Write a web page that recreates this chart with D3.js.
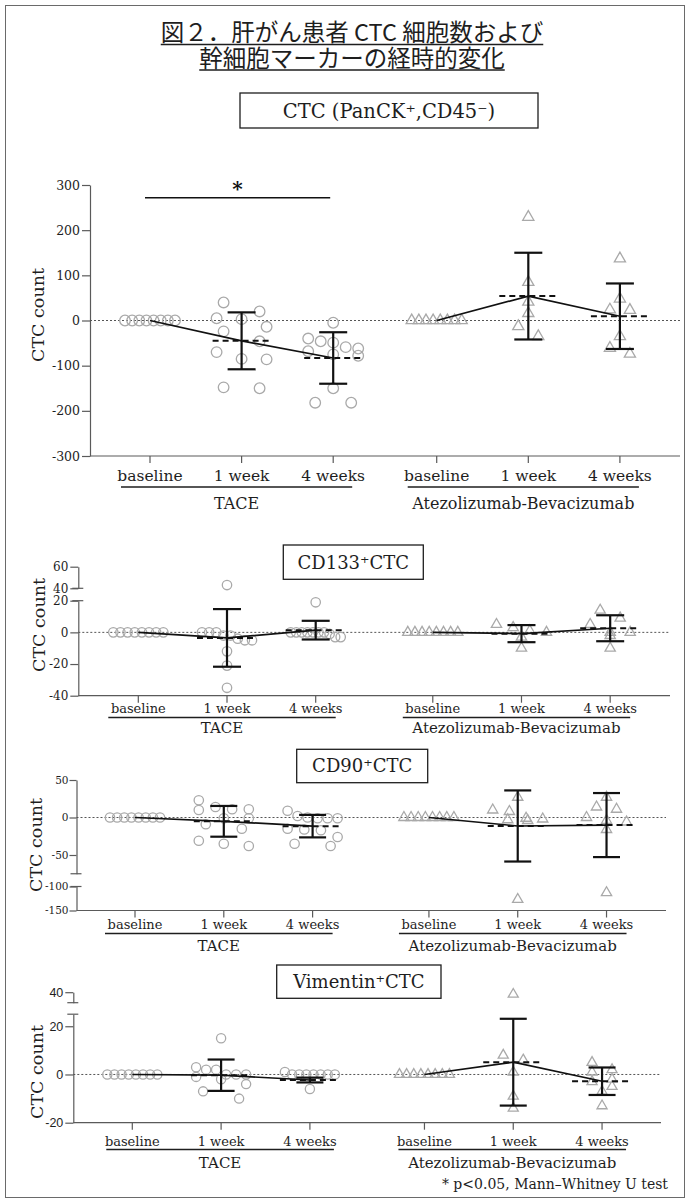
<!DOCTYPE html>
<html><head><meta charset="utf-8">
<script src="https://cdn.jsdelivr.net/npm/d3@7"></script>
<style>body{margin:0;background:#fff}</style>
</head><body>
<svg id="chart" width="690" height="1204"></svg>
<script>
// ================= DATA =================
const categories = ["baseline", "1 week", "4 weeks"];
const groups = ["TACE", "Atezolizumab-Bevacizumab"];
const titleLines = ["図２．肝がん患者 CTC 細胞数および", "幹細胞マーカーの経時的変化"];
const panelTitles = ["CTC (PanCK⁺,CD45⁻)", "CD133⁺CTC", "CD90⁺CTC", "Vimentin⁺CTC"];
const yLabel = "CTC count";
const footnote = "* p<0.05, Mann–Whitney U test";
const sigMark = "*";

// Panel 1: CTC (PanCK+, CD45-)
const ctcTace  = [[0,0,0,0,0,0,0,0],
                  [40,20,5,3,-14,-24,-46,-70,-85,-86,-148,-150],
                  [-5,-40,-46,-49,-59,-62,-68,-75,-78,-150,-182,-182]];
const ctcAtezo = [[0,0,0,0,0,0,0,0],
                  [229,85,41,16,-13,-35],
                  [137,48,24,23,-35,-61,-74]];
const ctcTaceMean = [0,-45,-83],  ctcTaceSD = [0,63,57];
const ctcAtezoMean = [0,54,9.5],  ctcAtezoSD = [0,96,72.5];
const ctcSegments = [[-300,300]];
const ctcTicks = [[-300,-200,-100,0,100,200,300]];

// Panel 2: CD133+ CTC
const cd133Tace  = [[0,0,0,0,0,0,0,0],
                    [43,0,0,0,-2,-2,-4,-5,-5,-12,-21,-35],
                    [19,0,0,0,0,0,0,0,-1,-3,-3]];
const cd133Atezo = [[0,0,0,0,0,0,0,0],
                    [5,3,1,0,-3,-10],
                    [14,9,5,0,0,-2,-10]];
const cd133TaceMean = [0,-3.5,1.4],  cd133TaceSD = [0,18.2,5.9];
const cd133AtezoMean = [0,-0.8,2.6], cd133AtezoSD = [0,5.4,8.2];
const cd133Segments = [[40,60],[-40,20]];
const cd133Ticks = [[40,60],[-40,-20,0,20]];

// Panel 3: CD90+ CTC
const cd90Tace  = [[0,0,0,0,0,0,0,0],
                   [23,14,11,11,10,-1,-1,-9,-15,-31,-35,-38],
                   [9,2,0,-1,-1,-1,-15,-16,-17,-26,-35,-38]];
const cd90Atezo = [[0,0,0,0,0,0,0,0],
                   [27,10,8,-1,-2,-3,-4,-127],
                   [27,14,11,0,-4,-6,-16,-113]];
const cd90TaceMean = [0,-5.1,-11.5],   cd90TaceSD = [0,20.5,15];
const cd90AtezoMean = [0,-11.3,-10.1], cd90AtezoSD = [0,47.4,42.7];
const cd90Segments = [[-75,50],[-150,-100]];
const cd90Ticks = [[-50,0,50],[-150,-100]];

// Panel 4: Vimentin+ CTC
const vimTace  = [[0,0,0,0,0,0,0,0],
                  [15,3,2,2,0,0,0,-1,-2,-4,-7,-10],
                  [1,0,0,0,0,0,0,0,-6]];
const vimAtezo = [[0,0,0,0,0,0,0,0],
                  [39,8,6,1,-9,-14],
                  [5,2,1,-2,-3,-5,-7,-13]];
const vimTaceMean = [0,-0.3,-2.3],  vimTaceSD = [0,6.5,1.0];
const vimAtezoMean = [0,5.1,-2.8],  vimAtezoSD = [0,18,5.7];
const vimSegments = [[35,40],[-20,25]];
const vimTicks = [[40],[-20,0,20]];

// ================= STYLE / LAYOUT =================
const SERIF = "'DejaVu Serif', serif";
const SANS = "'Liberation Sans', Arial, sans-serif";
const CJK = "'Noto Sans CJK JP', sans-serif";
const ink = "#1e1e1e", axisCol = "#5a5a5a", markCol = "#a9a9a9";

const svg = d3.select("#chart");
svg.append("rect").attr("x",5.5).attr("y",5.5).attr("width",679).attr("height",1192)
  .attr("fill","none").attr("stroke","#6a6a6a").attr("stroke-width",1);

// two-line title in one text element, with underlines
const title = svg.append("text").attr("text-anchor","middle")
  .attr("font-family",CJK).attr("font-size",23.5).attr("fill",ink);
titleLines.forEach((t,i)=>{
  const ts = title.append("tspan").attr("x",352).attr("y",41+i*25.5).text(t);
  const w = ts.node().getComputedTextLength();
  svg.append("line").attr("x1",352-w/2).attr("x2",352+w/2)
    .attr("y1",44.5+i*25.5).attr("y2",44.5+i*25.5).attr("stroke",ink).attr("stroke-width",1.5);
});

const panels = [
  { title: panelTitles[0], segs: ctcSegments, ticks: ctcTicks,
    series: [[ctcTace, ctcTaceMean, ctcTaceSD],[ctcAtezo, ctcAtezoMean, ctcAtezoSD]],
    L: {axisX:90, xEnd:680, segRanges:[[456,185]], x0:150, step:91.6, gap:3.13,
        catY:481, catFont:15.5, glY:487, glL:29, glR:19, grpY:509, grpFont:16,
        ylab:[38,315], box:[240,93,298,35], titleFont:19.5, r:5.3, tri:54,
        tickFont:SERIF, tickSize:12.5, tickLen:8, tickPad:2, capW:28, meanW:58, sig:true} },
  { title: panelTitles[1], segs: cd133Segments, ticks: cd133Ticks,
    series: [[cd133Tace, cd133TaceMean, cd133TaceSD],[cd133Atezo, cd133AtezoMean, cd133AtezoSD]],
    L: {axisX:78.3, xEnd:670, segRanges:[[588.3,566.7],[695.7,600.7]], x0:138.3, step:88.7, gap:3.32,
        catY:713, catFont:13, glY:717.5, glL:30, glR:20, grpY:733, grpFont:15,
        ylab:[39,625], box:[283.3,545,140,34.3], titleFont:18, r:4.7, tri:46,
        tickFont:SERIF, tickSize:12, tickLen:8, tickPad:2, capW:28, meanW:60, sig:false} },
  { title: panelTitles[2], segs: cd90Segments, ticks: cd90Ticks,
    series: [[cd90Tace, cd90TaceMean, cd90TaceSD],[cd90Atezo, cd90AtezoMean, cd90AtezoSD]],
    L: {axisX:76.5, xEnd:666, segRanges:[[873.75,780],[910.5,886.5]], x0:135, step:88.8, gap:3.31,
        catY:929, catFont:13, glY:933.5, glL:30, glR:20, grpY:951, grpFont:15,
        ylab:[36,845], box:[296.7,749.3,131,33.4], titleFont:18, r:4.7, tri:46,
        tickFont:SERIF, tickSize:10.5, tickLen:7, tickPad:1, capW:27, meanW:60, sig:false} },
  { title: panelTitles[3], segs: vimSegments, ticks: vimTicks,
    series: [[vimTace, vimTaceMean, vimTaceSD],[vimAtezo, vimAtezoMean, vimAtezoSD]],
    L: {axisX:73.3, xEnd:661, segRanges:[[1002.7,992.2],[1122.7,1014.2]], x0:132.3, step:88.8, gap:3.29,
        catY:1146, catFont:13, glY:1149.5, glL:26, glR:24, grpY:1168, grpFont:15,
        ylab:[37,1072], box:[276.7,965,164.3,33.3], titleFont:18, r:4.6, tri:44,
        tickFont:SANS, tickSize:12.5, tickLen:8, tickPad:2, capW:27, meanW:60, sig:false} }
];

function swarm(vals, ypx, r, sp, wMax){
  const pts = vals.map((v,i)=>({v, py:ypx(v), i})).sort((a,b)=>a.py-b.py);
  const rows=[]; let cur=null;
  pts.forEach(p=>{ if(cur && p.py-cur[0].py < 2*r) cur.push(p); else { cur=[p]; rows.push(cur);} });
  rows.forEach(row=>{
    const k=row.length, s = k>1 ? Math.min(sp, wMax/(k-1)) : 0;
    row.forEach((p,j)=> p.dx=(j-(k-1)/2)*s);
  });
  return pts;
}

panels.forEach(P=>{
  const L = P.L;
  const g = svg.append("g");
  const scales = P.segs.map((d,i)=> d3.scaleLinear().domain(d).range(L.segRanges[i]));
  const y = v => {
    for (const sc of scales){ const [a,b]=sc.domain(); if (v>=Math.min(a,b)-1e-9 && v<=Math.max(a,b)+1e-9) return sc(v); }
    return scales[scales.length-1](v);
  };
  const x = d3.scaleLinear().domain([0,1]).range([L.x0, L.x0+L.step]);
  const xs = (gi,ti) => x(gi*L.gap + ti);
  const yBottom = L.segRanges[L.segRanges.length-1][0];

  // title box
  const [bx,by,bw,bh] = L.box;
  g.append("rect").attr("x",bx).attr("y",by).attr("width",bw).attr("height",bh)
    .attr("fill","#fff").attr("stroke",ink).attr("stroke-width",1.3);
  g.append("text").attr("x",bx+bw/2).attr("y",by+bh/2).attr("dy","0.36em")
    .attr("text-anchor","middle").attr("font-family",SERIF).attr("font-size",L.titleFont)
    .attr("fill",ink).text(P.title);

  // y axis segments
  scales.forEach((sc,i)=>{
    const ax = d3.axisLeft(sc).tickValues(P.ticks[i]).tickSize(L.tickLen).tickPadding(L.tickPad)
      .tickSizeOuter(0).tickFormat(d=>String(d));
    const a = g.append("g").attr("transform",`translate(${L.axisX},0)`).call(ax);
    a.select(".domain").attr("stroke",axisCol).attr("stroke-width",1.2);
    a.selectAll(".tick line").attr("stroke",axisCol).attr("stroke-width",1.2);
    a.selectAll(".tick text").attr("font-family",L.tickFont).attr("font-size",L.tickSize).attr("fill",ink);
  });
  // break caps
  if (scales.length>1){
    const caps = [L.segRanges[0][0], L.segRanges[1][1]];
    caps.forEach(cy=> g.append("line").attr("x1",L.axisX-6).attr("x2",L.axisX+5)
      .attr("y1",cy).attr("y2",cy).attr("stroke",axisCol).attr("stroke-width",1.2));
  }

  // x axis
  g.append("line").attr("x1",L.axisX).attr("x2",L.xEnd).attr("y1",yBottom).attr("y2",yBottom)
    .attr("stroke",axisCol).attr("stroke-width",1.2);
  groups.forEach((gn,gi)=>{
    categories.forEach((c,ti)=>{
      g.append("line").attr("x1",xs(gi,ti)).attr("x2",xs(gi,ti)).attr("y1",yBottom).attr("y2",yBottom+7)
        .attr("stroke",axisCol).attr("stroke-width",1.2);
      g.append("text").attr("x",xs(gi,ti)).attr("y",L.catY).attr("text-anchor","middle")
        .attr("font-family",SERIF).attr("font-size",L.catFont).attr("fill",ink).text(c);
    });
    const x1 = xs(gi,0)-L.glL, x2 = xs(gi,2)+L.glR;
    g.append("line").attr("x1",x1).attr("x2",x2).attr("y1",L.glY).attr("y2",L.glY)
      .attr("stroke",ink).attr("stroke-width",1.4);
    g.append("text").attr("x",(x1+x2)/2).attr("y",L.grpY).attr("text-anchor","middle")
      .attr("font-family",SERIF).attr("font-size",L.grpFont).attr("fill",ink).text(gn);
  });

  // y label
  g.append("text").attr("transform",`translate(${L.ylab[0]},${L.ylab[1]}) rotate(-90)`)
    .attr("text-anchor","middle").attr("dy","0.35em").attr("font-family",SERIF)
    .attr("font-size",17.5).attr("fill",ink).text(yLabel);

  // zero line
  g.append("line").attr("x1",L.axisX).attr("x2",L.xEnd).attr("y1",y(0)).attr("y2",y(0))
    .attr("stroke","#555").attr("stroke-width",1).attr("stroke-dasharray","2,2");

  // points
  P.series.forEach(([vals],gi)=>{
    vals.forEach((arr,ti)=>{
      const pts = gi===0 ? swarm(arr, y, L.r, 36, 50) : swarm(arr, y, L.r, 20, 50);
      const cx = xs(gi,ti);
      if (gi===0){
        g.selectAll(null).data(pts).join("circle")
          .attr("cx",d=>cx+d.dx).attr("cy",d=>d.py).attr("r",L.r)
          .attr("fill","none").attr("stroke",markCol).attr("stroke-width",1.3);
      } else {
        g.selectAll(null).data(pts).join("path")
          .attr("d",d3.symbol(d3.symbolTriangle, L.tri))
          .attr("transform",d=>`translate(${cx+d.dx},${d.py})`)
          .attr("fill","none").attr("stroke",markCol).attr("stroke-width",1.3);
      }
    });
  });

  // summary: mean line, dashed mean, SD error bars
  P.series.forEach(([vals,mean,sd],gi)=>{
    const line = d3.line().x((d,ti)=>xs(gi,ti)).y(d=>y(d));
    g.append("path").attr("d",line(mean)).attr("fill","none").attr("stroke","#111").attr("stroke-width",1.7);
    mean.forEach((m,ti)=>{
      if (ti===0) return;
      const cx = xs(gi,ti);
      g.append("line").attr("x1",cx-L.meanW/2).attr("x2",cx+L.meanW/2).attr("y1",y(m)).attr("y2",y(m))
        .attr("stroke","#111").attr("stroke-width",2).attr("stroke-dasharray","6,4");
      const hi = y(m+sd[ti]), lo = y(m-sd[ti]);
      g.append("line").attr("x1",cx).attr("x2",cx).attr("y1",hi).attr("y2",lo)
        .attr("stroke","#111").attr("stroke-width",2.2);
      [hi,lo].forEach(yy=> g.append("line").attr("x1",cx-L.capW/2).attr("x2",cx+L.capW/2)
        .attr("y1",yy).attr("y2",yy).attr("stroke","#111").attr("stroke-width",2.2));
    });
  });

  // significance bracket
  if (L.sig){
    const x1 = xs(0,0)-5, x2 = xs(0,2)-3, yy = 197.7;
    g.append("line").attr("x1",x1).attr("x2",x2).attr("y1",yy).attr("y2",yy)
      .attr("stroke","#111").attr("stroke-width",1.4);
    g.append("text").attr("x",(x1+x2)/2).attr("y",yy-2).attr("text-anchor","middle")
      .attr("font-family",SERIF).attr("font-size",20).attr("font-weight","bold")
      .attr("fill","#111").text(sigMark);
  }
});

svg.append("text").attr("x",668).attr("y",1189).attr("text-anchor","end")
  .attr("font-family",SERIF).attr("font-size",14).attr("fill",ink).text(footnote);
</script>
</body></html>
